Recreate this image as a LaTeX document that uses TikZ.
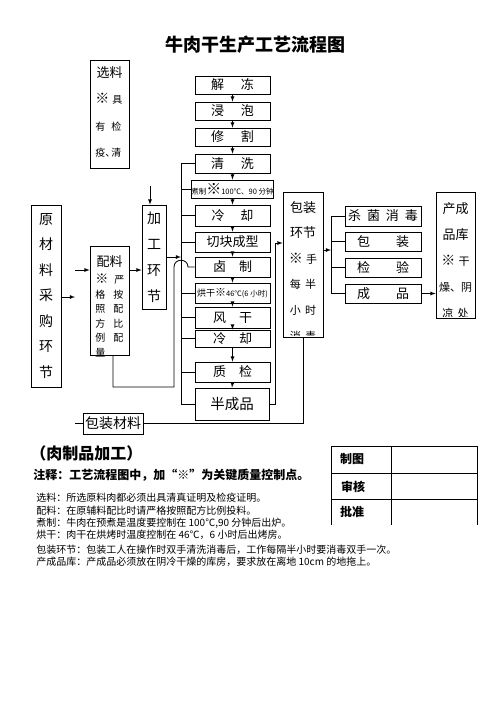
\documentclass[tikz,border=0pt]{standalone}
\usepackage{fontspec}
\setmainfont{Noto Sans CJK SC}
\usepackage{tikz}
\newcommand{\fsz}[2]{\fontsize{#1}{#2}\selectfont}
\newcommand{\kmark}[1]{{\fontsize{#1}{#1}\selectfont ※}}

\begin{document}
\begin{tikzpicture}[x=1pt,y=-1pt,>=latex,line width=0.8pt,
  every node/.style={inner sep=0pt},
  stepbox/.style={draw,minimum width=75pt,font=\fsz{13}{15}},
  sidebox/.style={draw,minimum width=76pt,minimum height=19pt,font=\fsz{13}{15}},
  tallbox/.style={draw,align=center},
  note/.style={anchor=west,font=\fsz{10}{12}},
  boldtxt/.style={font=\bfseries\fsz{12}{14}}]
  \useasboundingbox (0,0) rectangle (496,702);
  \node[font=\bfseries\fsz{18}{20}] (title) at (255,45) {牛肉干生产工艺流程图};

  % main process chain
  \node[stepbox,minimum height=18pt] (jd) at (232.5,85) {解\hspace{1.3em}冻};
  \node[stepbox,minimum height=18pt] (jp) at (232.5,111) {浸\hspace{1.3em}泡};
  \node[stepbox,minimum height=18pt] (xg) at (232.5,137) {修\hspace{1.3em}割};
  \node[stepbox,minimum height=19pt] (qx) at (232.5,163.5) {清\hspace{1.3em}洗};
  \node[stepbox,minimum height=18pt,font=\fsz{7.5}{9}] (zz) at (232.5,189)
    {煮制\kmark{15}100℃、90 分钟};
  \node[stepbox,minimum height=21pt] (lq) at (232.5,215.5) {冷\hspace{1.2em}却};
  \node[stepbox,minimum height=20pt] (qk) at (232.5,242) {切块成型};
  \node[stepbox,minimum height=20pt] (lz) at (232.5,267) {卤\hspace{1em}制};
  \node[stepbox,minimum height=20pt,font=\fsz{7.5}{9}] (hg) at (232.5,293)
    {{\fsz{9}{10}烘干}\kmark{11}46℃(6 小时)};
  \node[stepbox,minimum height=21pt] (fg) at (232.5,317.5) {风\hspace{1em}干};
  \node[stepbox,minimum height=17pt] (lk) at (232.5,338.5) {冷\hspace{1em}却};
  \node[stepbox,minimum height=20pt] (zj) at (232.5,372) {质\hspace{1em}检};
  \node[stepbox,minimum width=74pt,minimum height=32pt,font=\fsz{14.5}{16}] (bcp) at (232,404) {半成品};
  \foreach \a/\b in {jd/jp,jp/xg,xg/qx,qx/zz,zz/lq,lq/qk,qk/lz,lz/hg,hg/fg,fg/lk,lk/zj,zj/bcp}
    \draw[->] (\a.south) -- (\b.north);

  \coordinate (bus) at (181,0);
  \draw (bus |- qx.west) -- (bus |- bcp.west);
  \foreach \n in {qx,zz,lq,qk,hg,fg,lk,zj,bcp}
    \draw (bus |- \n.west) -- (\n.west);

  % left side
  \node[tallbox,minimum width=30pt,minimum height=182pt,font=\fsz{14}{25.5}] (ycl) at (46,296)
    {原\\材\\料\\采\\购\\环\\节};
  \node[draw,minimum width=39pt,minimum height=108pt] (xl) at (109.5,114) {};
  \node[font=\fsz{13}{15}] (xlt) at (109.5,73) {选料};
  \node[anchor=west,align=left,font=\fsz{10}{26.5}] (xlb) at (95,125.7)
    {\kmark{14}\hspace{.3em}具\\有\hspace{.6em}检\\疫\makebox[.6em][l]{、}清};
  \node[draw,minimum width=39pt,minimum height=109pt] (pl) at (109.5,300.5) {};
  \node[font=\fsz{13}{15}] (plt) at (109.5,262) {配料};
  \node[anchor=west,align=left,font=\fsz{10}{14.6}] (plb) at (95,315.5)
    {\kmark{13}\hspace{.6em}严\\格\hspace{.8em}按\\照\hspace{.8em}配\\方\hspace{.8em}比\\例\hspace{.8em}配\\量};
  \node[tallbox,minimum width=24pt,minimum height=104pt,font=\fsz{14}{26}] (jg) at (154,257)
    {加\\工\\环\\节};
  \coordinate (ya) at (75,297);
  \coordinate (pi) at (75,270);
  \coordinate (jt) at (150,186);
  \draw[->] (ya -| ycl.east) -- (ya);
  \draw[->] (pi) -- (pi -| pl.west);
  \draw[->] (pi -| pl.east) -- (pi -| jg.west);
  \draw[->] (jt) -- (jt |- jg.north);
  \draw[->] (jg.east) -- (jg.east -| bus);
  \coordinate (pc) at (113,387);
  \draw (pc |- pl.south) -- (pc) -| (174,267)
    .. controls (174,258) and (188,258) .. (188,267) -- (lz.west);

  % packing
  \node[draw,minimum width=40pt,minimum height=145pt] (bzhj) at (303,264.5) {};
  \begin{scope}
    \clip (bzhj.north west) rectangle ([yshift=2pt]bzhj.south east);
    \node[align=center,font=\fsz{11}{25.6}] (bzht) at (303,271)
      {{\fsz{13}{25.6}包装}\\{\fsz{13}{25.6}环节}\\\kmark{14}\hspace{.3em}手\\每\hspace{.4em}半\\小\hspace{.4em}时\\消\hspace{.4em}毒};
  \end{scope}
  \coordinate (bj) at (275,243);
  \draw[->] (bcp.east) -| (bj) -- (bj -| bzhj.west);
  \node[draw,minimum width=60pt,minimum height=21pt,font=\fsz{14}{16}] (bzcl) at (113,423.5) {包装材料};
  \coordinate (cl) at (75,423.5);
  \draw (cl) -- (bzcl.west);
  \draw (bzcl.east) -| (bzhj.south);

  \node[sidebox,minimum height=20pt] (ss) at (383,216) {杀\hspace{.45em}菌\hspace{.45em}消\hspace{.45em}毒};
  \node[sidebox] (bz) at (383,241.5) {包\hspace{2em}装};
  \node[sidebox] (jy) at (383,267.5) {检\hspace{2em}验};
  \node[sidebox] (cp) at (383,293.5) {成\hspace{2em}品};
  \coordinate (bus2) at (331,0);
  \coordinate (ba) at (323,250);
  \draw[->] (ba) -- (ba -| bus2);
  \draw (bus2 |- ss.west) -- (bus2 |- cp.west);
  \foreach \n in {ss,bz,jy,cp}
    \draw (bus2 |- \n.west) -- (\n.west);

  \node[draw,minimum width=39pt,minimum height=126pt] (kp) at (455.5,255) {};
  \begin{scope}
    \clip (kp.north west) rectangle ([yshift=2pt]kp.south east);
    \node[align=center,font=\fsz{11}{26}] (kpt) at (455.5,260)
      {{\fsz{13}{26}产成}\\{\fsz{13}{26}品库}\\\kmark{14}\hspace{.3em}干\\燥、阴\\凉\hspace{.4em}处};
  \end{scope}
  \draw[->] (cp.east) -- (cp.east -| kp.west);

  % notes
  \node[anchor=west,font=\bfseries\fsz{16}{18}] (sub) at (30,453) {（肉制品加工）};
  \node[anchor=west,boldtxt] (zs) at (33,475) {注释：工艺流程图中，加“※”为关键质量控制点。};
  \node[note] (n1) at (36,498) {选料：所选原料肉都必须出具清真证明及检疫证明。};
  \node[note] (n2) at (36,511) {配料：在原辅料配比时请严格按照配方比例投料。};
  \node[note] (n3) at (36,523) {煮制：牛肉在预煮是温度要控制在 100℃,90 分钟后出炉。};
  \node[note] (n4) at (36,535) {烘干：肉干在烘烤时温度控制在 46℃，6 小时后出烤房。};
  \node[note] (n5) at (36,550) {包装环节：包装工人在操作时双手清洗消毒后，工作每隔半小时要消毒双手一次。};
  \node[note] (n6) at (36,562) {产成品库：产成品必须放在阴冷干燥的库房，要求放在离地 10cm 的地拖上。};

  % sign-off table
  \foreach \y in {446,473,499}
    \draw (331,\y) -- (477,\y);
  \foreach \x in {331,391,477}
    \draw (\x,446) -- (\x,525);
  \node[boldtxt] (zt) at (352,459) {制图};
  \node[boldtxt] (sh) at (353,487) {审核};
  \node[boldtxt] (pz) at (352,512) {批准};
\end{tikzpicture}
\end{document}
